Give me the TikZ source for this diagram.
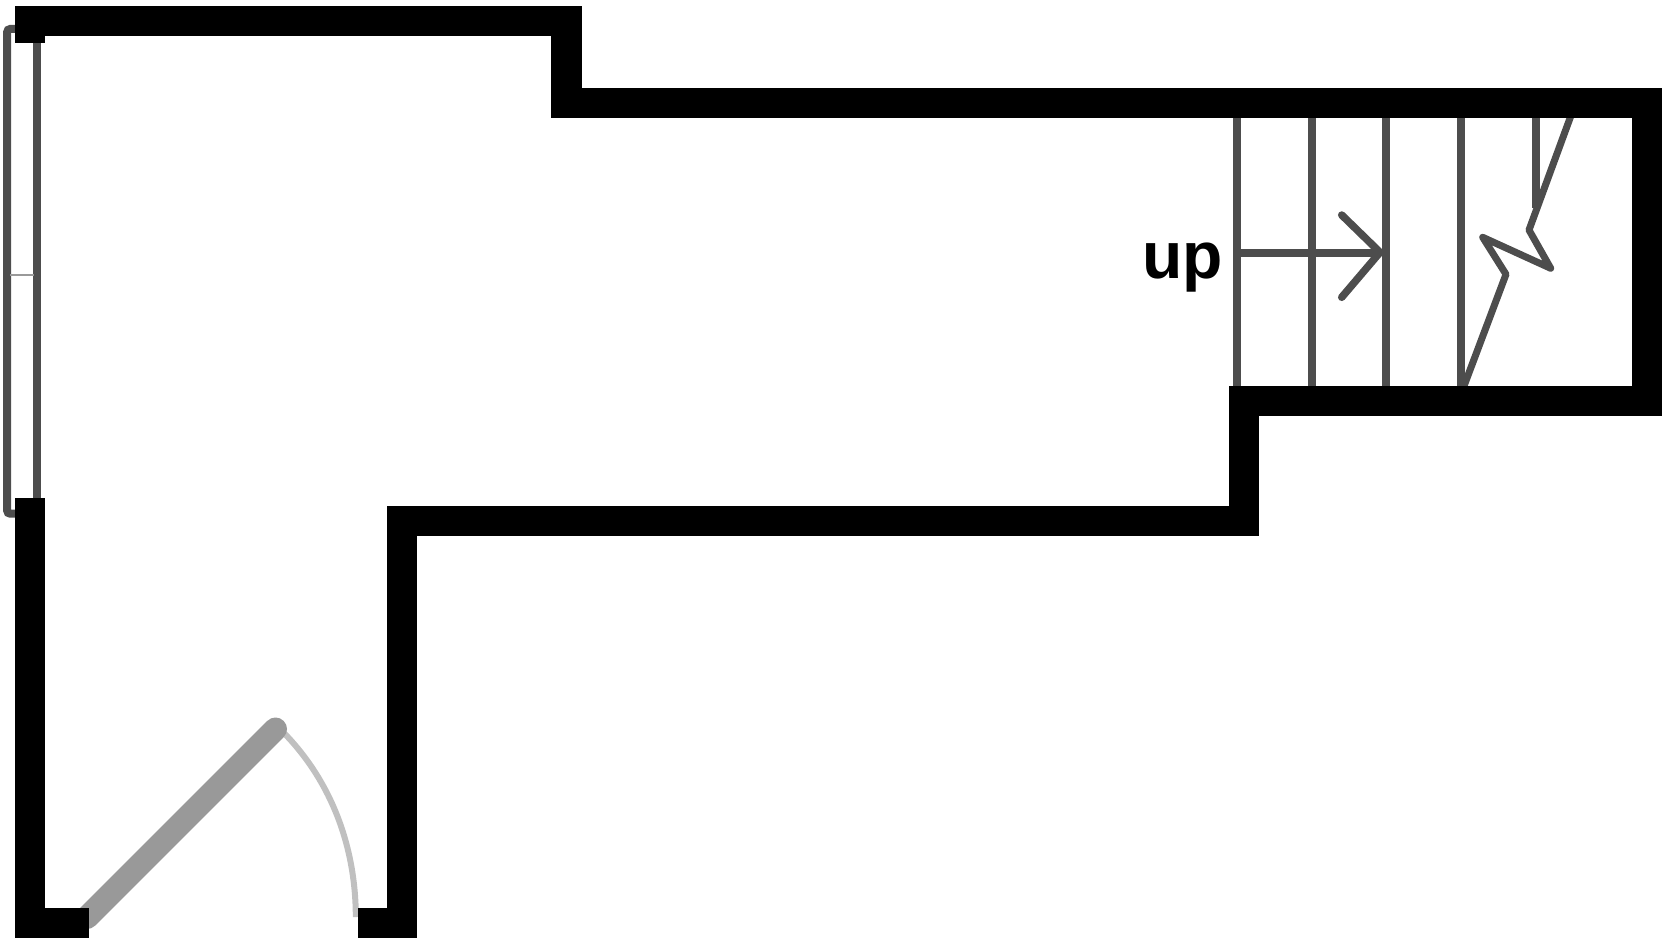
\documentclass[tikz,border=0pt]{standalone}
\usepackage{fontspec}
\setmainfont{Liberation Sans}
\tikzset{
  wall/.style={fill=black,draw=none},
  thinline/.style={draw=stair,line width=8pt},
  breakline/.style={draw=stair,line width=7pt,line join=round,line cap=round},
  arrowhead/.style={draw=stair,line width=7.5pt,line join=miter,line cap=round},
}
\definecolor{stair}{HTML}{4D4D4D}
\definecolor{leaf}{HTML}{999999}
\definecolor{swing}{HTML}{C0C0C0}
\begin{document}
\begin{tikzpicture}[x=1pt,y=-1pt]
\useasboundingbox (0,0) rectangle (1663,939);
% window
\draw[thinline,rounded corners=3pt] (25,29) -- (7.2,29) -- (7.2,513.7) -- (25,513.7);
\draw[thinline] (37,30) -- (37,500);
\draw[draw=leaf,line width=2pt] (10,274.7) -- (34,274.7);
% stairs
\foreach \x in {1237.3,1311.7,1386.3,1461} \draw[thinline] (\x,110) -- (\x,390);
\draw[thinline] (1535.7,110) -- (1535.7,208);
\draw[thinline] (1237.3,252.8) -- (1380,252.8);
\draw[arrowhead] (1341.7,215) -- (1380,252.3) -- (1341.7,297.3);
\draw[breakline,line cap=butt] (1573,110) -- (1529,230) -- (1550.7,268.3) -- (1482.7,237.3) -- (1506,274.3) -- (1461,394);
% door
\draw[draw=swing,line width=6pt] (280,729) .. controls (331,779) and (355.8,846.5) .. (355.8,917);
\draw[draw=leaf,line width=23pt,line cap=round] (87,917.5) -- (275.5,729);
% walls
\fill[wall] (15,6) rectangle (581.6,36);
\fill[wall] (15,6) rectangle (44.7,43.5);
\fill[wall] (551,6) rectangle (581.6,118.3);
\fill[wall] (551,88.3) rectangle (1662.3,118.3);
\fill[wall] (1632.3,88.3) rectangle (1662.3,416);
\fill[wall] (1229.3,386) rectangle (1662.3,416);
\fill[wall] (1229.3,386) rectangle (1259.3,535.7);
\fill[wall] (387,506) rectangle (1259.3,535.7);
\fill[wall] (387,506) rectangle (417.3,938.3);
\fill[wall] (357.7,908.3) rectangle (417.3,938.3);
\fill[wall] (15,498.3) rectangle (44.7,938.3);
\fill[wall] (15,908.3) rectangle (89.3,938.3);
% label
\node[anchor=base,inner sep=0pt,font=\fontsize{66pt}{66pt}\selectfont\bfseries] (uplabel) at (1182.4,278) {up};
\end{tikzpicture}
\end{document}
